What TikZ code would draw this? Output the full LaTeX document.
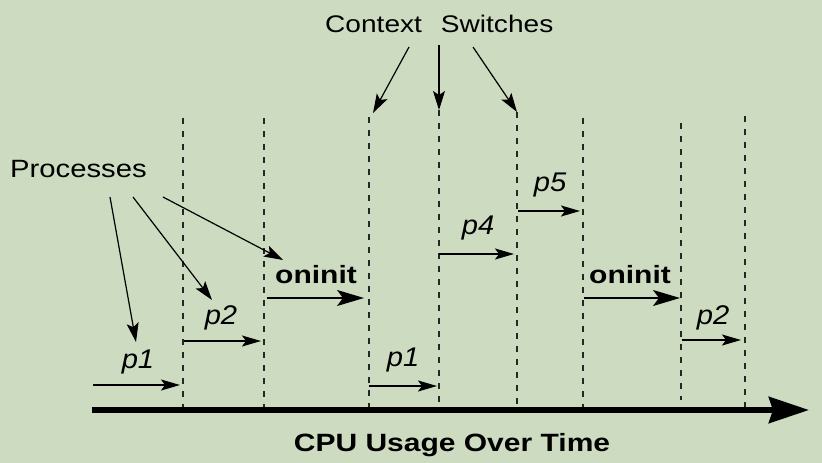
\documentclass[tikz,border=0pt]{standalone}
\usepackage{fontspec}
\usetikzlibrary{arrows.meta}
\newfontfamily\regfont{Liberation Sans}[FakeStretch=1.17]
\newfontfamily\boldfont{Liberation Sans Bold}[FakeStretch=1.2]
\newfontfamily\itfont{Liberation Sans Italic}[FakeStretch=1.08]
\definecolor{bgc}{RGB}{205,220,193}
\tikzset{
  reglabel/.style={inner sep=0pt, anchor=base west, font=\regfont\fontsize{24}{28}\selectfont},
  boldlabel/.style={inner sep=0pt, anchor=base, font=\boldfont\fontsize{25}{29}\selectfont},
  itlabel/.style={inner sep=0pt, anchor=base, font=\itfont\fontsize{27}{31}\selectfont},
  divider/.style={line width=1.6pt, dash pattern=on 6pt off 7pt, draw=black!85},
  runarrow/.style={line width=1.5pt, -{Stealth[length=19pt,width=11pt,inset=4pt]}},
  bigrun/.style={line width=1.5pt, -{Stealth[length=27pt,width=16pt,inset=6pt]}},
  pointer/.style={line width=1.2pt, -{Stealth[length=19pt,width=12pt,inset=4pt]}},
  axisline/.style={line width=6pt, -{Stealth[length=40pt,width=26pt,inset=4pt]}}
}
\begin{document}
\begin{tikzpicture}[x=1pt,y=-1pt]
\fill[bgc] (0,0) rectangle (822,463);
\useasboundingbox (0,0) rectangle (822,463);
% divider coordinates
\coordinate (t1) at (183,118); \coordinate (b1) at (183,408);
\coordinate (t2) at (264,118); \coordinate (b2) at (264,408);
\coordinate (t3) at (369,117); \coordinate (b3) at (369,408);
\coordinate (t4) at (439,110); \coordinate (b4) at (439,408);
\coordinate (t5) at (517,112); \coordinate (b5) at (517,408);
\coordinate (t6) at (583,118); \coordinate (b6) at (583,408);
\coordinate (t7) at (681,123); \coordinate (b7) at (681,400);
\coordinate (t8) at (745,116); \coordinate (b8) at (745,408);
\foreach \i in {1,...,8} { \draw[divider] (t\i) -- (b\i); }
% time axis
\coordinate (ax0) at (92,410);
\coordinate (ax1) at (809,410);
\draw[axisline] (ax0) -- (ax1);
\node[boldlabel] (cpu) at (452,451) {CPU Usage Over Time};
% labels
\node[reglabel, font=\regfont\fontsize{25}{29}\selectfont] (proc) at (10,177) {Processes};
\node[reglabel] (ctx) at (325,32) {Context\hspace{19pt}Switches};
% run arrows
\coordinate (r1s) at (93,385);  \coordinate (r1e) at (180,385);
\coordinate (r2s) at (184,341); \coordinate (r2e) at (261,341);
\coordinate (r3s) at (267,298); \coordinate (r3e) at (364,298);
\coordinate (r4s) at (369,386); \coordinate (r4e) at (437,386);
\coordinate (r5s) at (439,254); \coordinate (r5e) at (514,254);
\coordinate (r6s) at (518,211); \coordinate (r6e) at (580,211);
\coordinate (r7s) at (584,298); \coordinate (r7e) at (680,298);
\coordinate (r8s) at (682,340); \coordinate (r8e) at (741,340);
\draw[runarrow] (r1s) -- (r1e);
\draw[runarrow] (r2s) -- (r2e);
\draw[bigrun] (r3s) -- (r3e);
\draw[runarrow] (r4s) -- (r4e);
\draw[runarrow] (r5s) -- (r5e);
\draw[runarrow] (r6s) -- (r6e);
\draw[bigrun] (r7s) -- (r7e);
\draw[runarrow] (r8s) -- (r8e);
\node[itlabel] (pa) at (138,368) {p1};
\node[itlabel] (pb) at (221,324) {p2};
\node[boldlabel] (oa) at (316,283) {oninit};
\node[itlabel] (pc) at (403,366) {p1};
\node[itlabel] (pd) at (478,234) {p4};
\node[itlabel] (pe) at (550,191) {p5};
\node[boldlabel] (ob) at (630,283) {oninit};
\node[itlabel] (pf) at (713,324) {p2};
% process pointers
\coordinate (ps1) at (110,197); \coordinate (pt1) at (136,342);
\coordinate (ps2) at (133,197); \coordinate (pt2) at (212,300);
\coordinate (ps3) at (163,197); \coordinate (pt3) at (283,260);
\draw[pointer] (ps1) -- (pt1);
\draw[pointer] (ps2) -- (pt2);
\draw[pointer] (ps3) -- (pt3);
% context switch pointers
\coordinate (cs1) at (409,47); \coordinate (ct1) at (373,113);
\coordinate (cs2) at (439,45); \coordinate (ct2) at (439,110);
\coordinate (cs3) at (473,47); \coordinate (ct3) at (517,112);
\draw[pointer] (cs1) -- (ct1);
\draw[pointer] (cs2) -- (ct2);
\draw[pointer] (cs3) -- (ct3);
\end{tikzpicture}
\end{document}
